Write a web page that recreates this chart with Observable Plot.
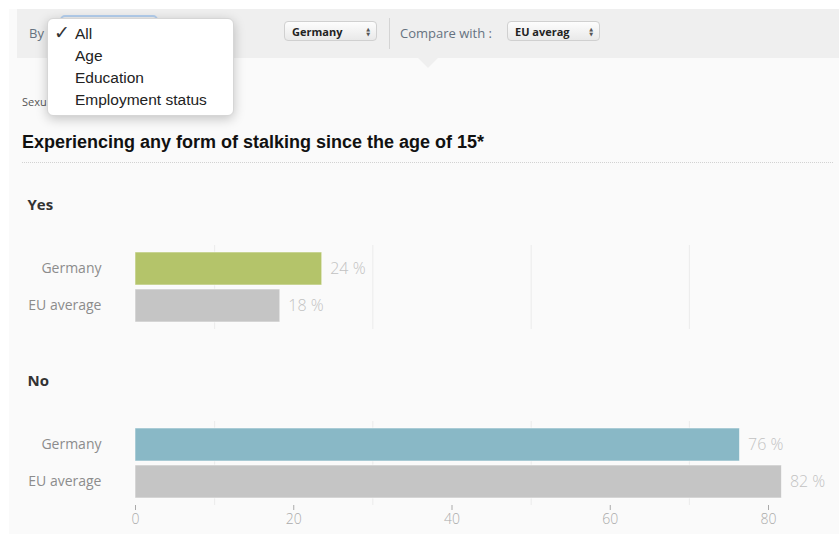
<!DOCTYPE html>
<html>
<head>
<meta charset="utf-8">
<script src="https://cdn.jsdelivr.net/npm/d3@7"></script>
<script src="https://cdn.jsdelivr.net/npm/@observablehq/plot@0.6"></script>
<style>
  html, body { margin: 0; padding: 0; background: #fff; width: 839px; height: 534px; overflow: hidden; }
  .abs { position: absolute; }
  #panel { left: 9px; top: 9px; width: 830px; height: 525px; background: #fafafa; }
  #topbar { left: 17px; top: 9px; width: 822px; height: 49px; background: #efefef; }
  #pointer { left: 418px; top: 58px; width: 0; height: 0; border-left: 10px solid transparent; border-right: 10px solid transparent; border-top: 10px solid #efefef; }
  .lbl { font-family: "Open Sans", sans-serif; font-size: 13px; color: #66727f; white-space: nowrap; }
  .sel { height: 20px; border: 1px solid #d0d0d0; border-radius: 4px; background: linear-gradient(#fdfdfd, #e9e9e9);
         font-family: "Open Sans", sans-serif; font-weight: bold; font-size: 11px; color: #222; line-height: 20px; box-sizing: border-box; padding-left: 7px; }
  .arr { position: absolute; right: 6px; top: 5px; font-size: 5px; line-height: 5px; color: #555; font-family: "DejaVu Sans"; }
  #menu { left: 47px; top: 18px; width: 187px; height: 98px; background: #fff; border-radius: 6px; border: 1px solid #d6d6d6; box-sizing: border-box;
          box-shadow: 0 3px 12px rgba(0,0,0,0.22); font-family: "Liberation Sans", Arial, sans-serif; font-size: 15.5px; color: #222; }
  #menu div { position: absolute; left: 27px; white-space: nowrap; }
  #title { left: 22px; top: 132px; font-family: "Liberation Sans", Arial, sans-serif; font-weight: bold; font-size: 18px; color: #111; white-space: nowrap; }
  #dots { left: 22px; top: 162px; width: 811px; height: 0; border-top: 1px dotted #d2d2d2; }
  #chart { left: 0; top: 170px; }
</style>
</head>
<body>
<div id="panel" class="abs"></div>
<div id="topbar" class="abs"></div>
<div id="pointer" class="abs"></div>
<div class="abs lbl" style="left:29px; top:24px;">By</div>
<div class="abs" style="left:60px; top:15px; width:98px; height:28px; border:2px solid #b4cfee; border-radius:5px; box-sizing:border-box;"></div>
<div class="abs lbl" style="left:230px; top:24px;">:</div>
<div class="abs sel" style="left:284px; top:21px; width:93px;">Germany<span class="arr">▲<br>▼</span></div>
<div class="abs" style="left:389px; top:18px; width:1px; height:31px; background:#d4d4d4;"></div>
<div class="abs lbl" style="left:400px; top:24px;">Compare with :</div>
<div class="abs sel" style="left:507px; top:21px; width:93px;">EU averag<span class="arr">▲<br>▼</span></div>
<div class="abs" style="left:22px; top:94px; font-family:'Open Sans',sans-serif; font-size:11px; color:#555;">Sexu</div>
<div id="menu" class="abs">
  <div style="left:6px; top:2px; font-family:'DejaVu Sans'; font-size:19px; color:#333;">✓</div>
  <div style="top:6px;">All</div>
  <div style="top:28px;">Age</div>
  <div style="top:50px;">Education</div>
  <div style="top:72px;">Employment status</div>
</div>
<div id="title" class="abs">Experiencing any form of stalking since the age of 15*</div>
<div id="dots" class="abs"></div>
<div id="chart" class="abs"></div>
<script>
// ---- data ----
const answers = ["Yes", "No"];
const groups = ["Germany", "EU average"];
const germanyValues = [23.6, 76.4];
const euAverageValues = [18.3, 81.7];
const xTicks = [0, 20, 40, 60, 80];
const gridValues = [10, 30, 50, 70];

// table built from the arrays
const rows = [];
answers.forEach((a, i) => {
  rows.push({answer: a, group: "Germany", value: germanyValues[i], key: a + " Germany"});
  rows.push({answer: a, group: "EU average", value: euAverageValues[i], key: "EU average"});
});

const chart = Plot.plot({
  width: 839,
  height: 364,
  marginLeft: 135,
  marginRight: 71,
  marginTop: 75,
  marginBottom: 29,
  style: {background: "transparent", fontFamily: "Open Sans, sans-serif", overflow: "visible"},
  x: {domain: [0, 80]},
  y: {domain: groups, paddingInner: 0.105, paddingOuter: 0.158},
  fy: {domain: answers, paddingInner: 0.523, paddingOuter: 0, axis: null},
  color: {domain: ["Yes Germany", "No Germany", "EU average"], range: ["#b4c46a", "#89b8c6", "#c5c5c5"]},
  marks: [
    Plot.ruleX(gridValues, {stroke: "#ebebeb"}),
    Plot.barX(rows, {fy: "answer", y: "group", x: "value", fill: "key", stroke: "#ffffff", strokeOpacity: 0.55}),
    Plot.text(rows, {fy: "answer", y: "group", x: "value", text: d => `${Math.round(d.value)} %`, dx: 8, textAnchor: "start",
      fill: "#c2c2c2", fontSize: 16, fontWeight: 300}),
    Plot.text(answers, {fy: d => d, text: d => d, frameAnchor: "top-left", dx: -108, dy: -40, textAnchor: "start",
      lineAnchor: "middle", fontWeight: "bold", fontSize: 15, fill: "#333"}),
    Plot.axisY({tickSize: 0, tickPadding: 34, fontSize: 14, color: "#8c8c8c", label: null}),
    Plot.axisX(xTicks, {tickSize: 5, tickPadding: 4, fontSize: 14, fontWeight: 300, color: "#aaaaaa", label: null})
  ]
});
document.getElementById("chart").appendChild(chart);
</script>
</body>
</html>
